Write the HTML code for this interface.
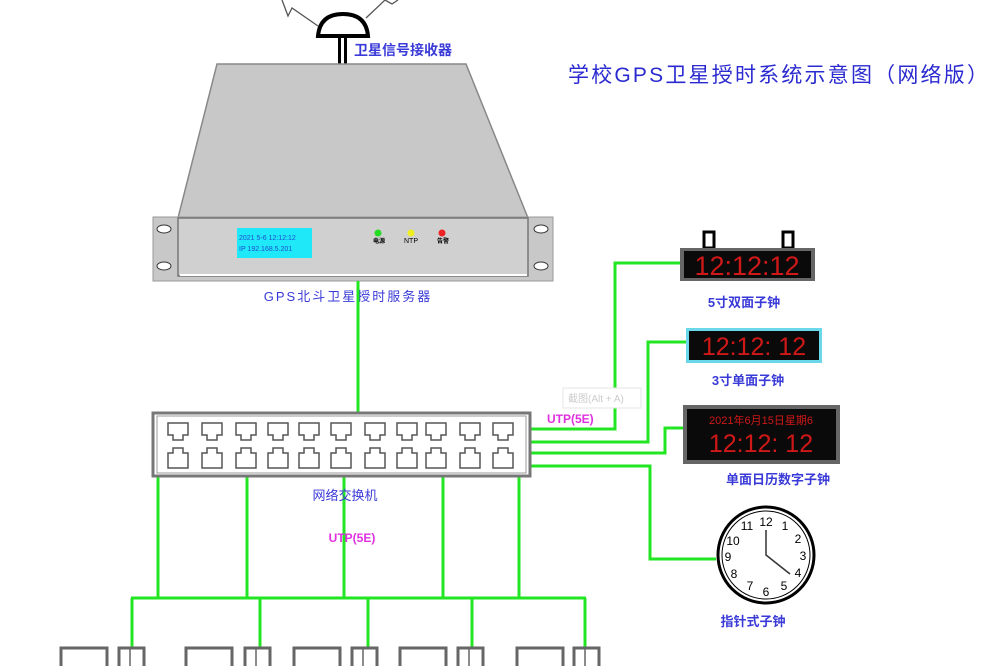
<!DOCTYPE html>
<html><head><meta charset="utf-8"><style>
html,body{margin:0;padding:0;background:#fff;}
svg text{font-family:"Liberation Sans","Noto Sans CJK SC",sans-serif;}
</style></head><body>
<svg width="1000" height="666" viewBox="0 0 1000 666" xmlns="http://www.w3.org/2000/svg">
<rect width="1000" height="666" fill="#fff"/>
<polyline points="318,26 292,8 288,16 282,0" fill="none" stroke="#555" stroke-width="1.3"/>
<polyline points="366,18 385,0 392,4 398,0" fill="none" stroke="#555" stroke-width="1.3"/>
<path d="M318,36 Q320,14 343,14 Q366,14 368,36 Z" fill="#fff" stroke="#000" stroke-width="4"/>
<rect x="338" y="37" width="3" height="28" fill="#000"/><rect x="344" y="37" width="3" height="28" fill="#000"/>
<text x="354" y="55" font-size="14" font-weight="bold" fill="#3a3ad8">卫星信号接收器</text>
<text x="568" y="82" font-size="21" fill="#2a2ad0" letter-spacing="2.2">学校GPS卫星授时系统示意图（网络版）</text>
<polygon points="217,64 466,64 528,218 178,218" fill="#c8c8c8" stroke="#888" stroke-width="1.5"/>
<rect x="153" y="217" width="400" height="64" fill="#c8c8c8" stroke="#999"/>
<rect x="178" y="218" width="350" height="58" fill="#d0d0d0" stroke="#777" stroke-width="1.5"/>
<line x1="180" y1="275" x2="527" y2="275" stroke="#fff" stroke-width="2"/>
<ellipse cx="164" cy="229" rx="7" ry="4" fill="#fff" stroke="#333"/>
<ellipse cx="164" cy="266" rx="7" ry="4" fill="#fff" stroke="#333"/>
<ellipse cx="541" cy="229" rx="7" ry="4" fill="#fff" stroke="#333"/>
<ellipse cx="541" cy="266" rx="7" ry="4" fill="#fff" stroke="#333"/>
<rect x="237" y="228" width="75" height="30" fill="#1fe8f8"/>
<text x="239" y="240" font-size="7" fill="#1e4fd0">2021 5-6 12:12:12</text>
<text x="239" y="251" font-size="7" fill="#1e4fd0">IP 192.168.5.201</text>
<circle cx="378" cy="233" r="3.5" fill="#2d2"/><circle cx="411" cy="233" r="3.5" fill="#ee2"/><circle cx="442" cy="233" r="3.5" fill="#e22"/>
<text x="373" y="243" font-size="6" font-weight="bold">电源</text>
<text x="404" y="243" font-size="7">NTP</text>
<text x="437" y="243" font-size="6" font-weight="bold">告警</text>
<text x="348" y="301" font-size="13" fill="#3a3ad8" text-anchor="middle" letter-spacing="2">GPS北斗卫星授时服务器</text>
<g stroke="#22e622" stroke-width="3" fill="none">
<line x1="358" y1="281" x2="358" y2="412"/>
<line x1="158" y1="476" x2="158" y2="598"/><line x1="247" y1="476" x2="247" y2="598"/><line x1="344" y1="476" x2="344" y2="598"/><line x1="443" y1="476" x2="443" y2="598"/><line x1="519" y1="476" x2="519" y2="598"/>
<line x1="131" y1="598" x2="586" y2="598"/>
<line x1="132" y1="598" x2="132" y2="648"/><line x1="260" y1="598" x2="260" y2="648"/><line x1="368" y1="598" x2="368" y2="648"/><line x1="472" y1="598" x2="472" y2="648"/><line x1="585" y1="598" x2="585" y2="648"/>
<polyline points="530,429 615,429 615,263 680,263"/>
<polyline points="530,442 648,442 648,342 686,342"/>
<polyline points="530,453 665,453 665,428 683,428"/>
<polyline points="530,466 650,466 650,559 716,559"/>
</g>
<rect x="153" y="413" width="377" height="63" fill="#fff" stroke="#777" stroke-width="3"/>
<rect x="157" y="416" width="369" height="57" fill="none" stroke="#999" stroke-width="1"/>
<g fill="none" stroke="#555" stroke-width="1.5">
<g id="p"><path d="M168,423 h20 v12 h-5 v5 h-10 v-5 h-5 z"/><path d="M168,468 h20 v-15 h-5 v-5 h-10 v5 h-5 z"/></g>
<use href="#p" x="34"/><use href="#p" x="68"/><use href="#p" x="100"/><use href="#p" x="131"/><use href="#p" x="163"/><use href="#p" x="197"/><use href="#p" x="229"/><use href="#p" x="258"/><use href="#p" x="292"/><use href="#p" x="325"/>
</g>
<text x="345" y="500" font-size="13" fill="#3a3ad8" text-anchor="middle">网络交换机</text>
<text x="352" y="542" font-size="12" font-weight="bold" fill="#e030e0" text-anchor="middle" font-family="Liberation Serif">UTP(5E)</text>
<text x="547" y="423" font-size="12" font-weight="bold" fill="#e030e0" font-family="Liberation Serif">UTP(5E)</text>
<rect x="563" y="388" width="78" height="20" fill="#fff" stroke="#e4e4e4"/>
<text x="568" y="402" font-size="10" fill="#ccc">截图(Alt + A)</text>
<g fill="#fff" stroke="#666" stroke-width="3">
<rect x="61" y="648" width="46" height="20"/><rect x="119" y="648" width="25" height="20"/>
<rect x="186" y="648" width="46" height="20"/><rect x="245" y="648" width="25" height="20"/>
<rect x="294" y="648" width="46" height="20"/><rect x="352" y="648" width="25" height="20"/>
<rect x="400" y="648" width="46" height="20"/><rect x="458" y="648" width="25" height="20"/>
<rect x="517" y="648" width="46" height="20"/><rect x="574" y="648" width="25" height="20"/>
</g>
<g stroke="#666" stroke-width="1.5"><line x1="130" y1="648" x2="130" y2="666"/><line x1="256" y1="648" x2="256" y2="666"/><line x1="363" y1="648" x2="363" y2="666"/><line x1="469" y1="648" x2="469" y2="666"/><line x1="585" y1="648" x2="585" y2="666"/></g>
<rect x="704" y="232" width="10" height="16" fill="#fff" stroke="#000" stroke-width="3"/>
<rect x="783" y="232" width="10" height="16" fill="#fff" stroke="#000" stroke-width="3"/>
<rect x="680" y="248" width="135" height="33" fill="#666"/><rect x="684" y="251" width="127" height="27" fill="#0a0a0a"/>
<text x="747" y="275" font-size="27" fill="#d01818" text-anchor="middle">12:12:12</text>
<text x="744" y="307" font-size="13" font-weight="bold" fill="#3a3ad8" text-anchor="middle">5寸双面子钟</text>
<rect x="686" y="328" width="136" height="35" fill="#6ad8e8"/><rect x="689" y="331" width="130" height="29" fill="#0a0a0a"/>
<text x="754" y="355" font-size="25" fill="#d01818" text-anchor="middle">12:12: 12</text>
<text x="748" y="385" font-size="13" font-weight="bold" fill="#3a3ad8" text-anchor="middle">3寸单面子钟</text>
<rect x="683" y="405" width="157" height="59" fill="#666"/><rect x="687" y="409" width="149" height="51" fill="#0a0a0a"/>
<text x="761" y="424" font-size="11" fill="#d01818" text-anchor="middle">2021年6月15日星期6</text>
<text x="761" y="452" font-size="25" fill="#d01818" text-anchor="middle">12:12: 12</text>
<text x="778" y="484" font-size="13" font-weight="bold" fill="#3a3ad8" text-anchor="middle">单面日历数字子钟</text>
<circle cx="766" cy="555" r="48" fill="#fff" stroke="#000" stroke-width="3"/>
<circle cx="766" cy="555" r="44" fill="none" stroke="#000" stroke-width="1"/>
<g font-size="12" fill="#000" text-anchor="middle" font-family="Liberation Sans">
<text x="766" y="526">12</text><text x="785" y="530">1</text><text x="798" y="543">2</text><text x="803" y="560">3</text><text x="798" y="577">4</text><text x="784" y="590">5</text><text x="766" y="596">6</text><text x="750" y="590">7</text><text x="734" y="578">8</text><text x="728" y="561">9</text><text x="733" y="545">10</text><text x="747" y="530">11</text>
</g>
<polyline points="766,530 766,555 790,574" fill="none" stroke="#333" stroke-width="1.5"/>
<text x="753" y="626" font-size="13" font-weight="bold" fill="#3a3ad8" text-anchor="middle">指针式子钟</text>
</svg>
</body></html>
